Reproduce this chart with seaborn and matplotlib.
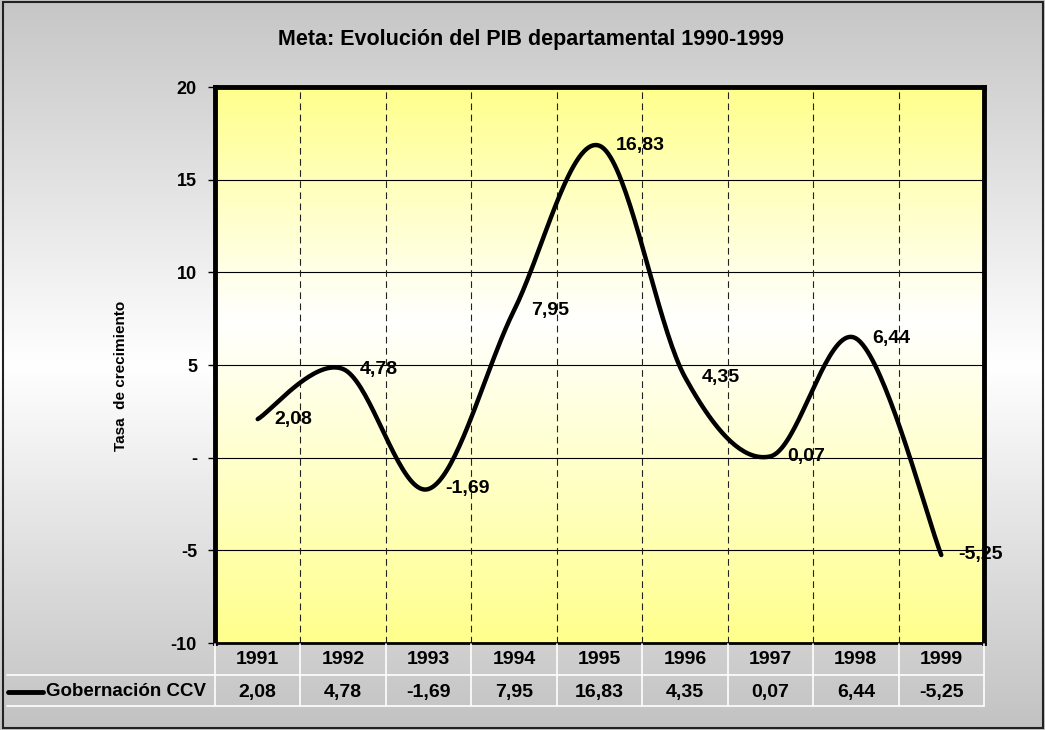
"""
plot.py
Line chart of the departmental GDP growth rate 1991-1999 (Excel style),
with a smoothed line, data labels and a data table under the x axis.

Run command: python plot.py
"""

import numpy as np
import matplotlib
matplotlib.use("Agg")  # no display in the sandbox
import matplotlib.pyplot as plt
import matplotlib.transforms as mtransforms
from matplotlib.colors import LinearSegmentedColormap
from matplotlib.lines import Line2D
from matplotlib.patches import Rectangle
import seaborn as sns

# Data
YEARS = ["1991", "1992", "1993", "1994", "1995", "1996", "1997", "1998", "1999"]
GROWTH = [2.08, 4.78, -1.69, 7.95, 16.83, 4.35, 0.07, 6.44, -5.25]
SERIES_NAME = "Gobernación CCV"
Y_TICKS = [-10, -5, 0, 5, 10, 15, 20]
Y_TICK_LABELS = ["-10", "-5", "-", "5", "10", "15", "20"]
TITLE = "Meta: Evolución del PIB departamental 1990-1999"
Y_LABEL = "Tasa  de crecimiento"

W, H = 1045, 730
FONT = ["Liberation Sans", "DejaVu Sans"]


def fmt(v):
    """Spanish decimal comma, like the original sheet"""
    return f"{v:.2f}".replace(".", ",")


def smooth_curve(y, steps=40):
    """Excel-like 'smoothed line': cubic Bezier segments through the points
    (Catmull-Rom control points). Only changes how the line is drawn."""
    pts = np.column_stack([np.arange(len(y)), y]).astype(float)
    padded = np.vstack([pts[0], pts, pts[-1]])
    t = np.linspace(0, 1, steps)[:, None]
    out = []
    for i in range(len(pts) - 1):
        p0, p1, p2, p3 = padded[i], padded[i + 1], padded[i + 2], padded[i + 3]
        c1 = p1 + (p2 - p0) / 6
        c2 = p2 - (p3 - p1) / 6
        seg = (1 - t) ** 3 * p1 + 3 * (1 - t) ** 2 * t * c1 + 3 * (1 - t) * t ** 2 * c2 + t ** 3 * p2
        out.append(seg if i == 0 else seg[1:])
    return np.vstack(out)


sns.set_theme(style="white")
plt.rcParams["font.family"] = FONT
plt.rcParams["font.weight"] = "bold"
plt.rcParams["text.color"] = "black"
plt.rcParams["axes.labelcolor"] = "black"
plt.rcParams["ytick.color"] = "black"
plt.rcParams["xtick.color"] = "black"

fig = plt.figure(figsize=(W / 100, H / 100), dpi=100)

# Figure background: gray -> white -> gray vertical gradient
bg = fig.add_axes([0, 0, 1, 1], zorder=-5)
bg_cmap = LinearSegmentedColormap.from_list("bg", ["#c6c6c6", "#ffffff", "#c2c2c2"])
bg.imshow(np.linspace(0, 1, 256)[:, None], cmap=bg_cmap, aspect="auto",
          extent=(0, 1, 0, 1), origin="upper")
bg.set_xlim(0, 1)
bg.set_ylim(0, 1)
bg.axis("off")
fig.add_artist(Rectangle((3 / W, 2 / H), 1 - 5 / W, 1 - 4 / H, transform=fig.transFigure,
                         fill=False, edgecolor="#222222", lw=1.5))

# Plot area
left, right, top, bottom = 215, 984, 87, 643
ax = fig.add_axes([left / W, 1 - bottom / H, (right - left) / W, (bottom - top) / H])
n = len(YEARS)
ax.set_xlim(-0.5, n - 0.5)
ax.set_ylim(-10, 20)

plot_cmap = LinearSegmentedColormap.from_list(
    "plot", [(0, "#ffff8c"), (0.42, "#ffffff"), (1, "#ffff8c")])
ax.imshow(np.linspace(0, 1, 256)[:, None], cmap=plot_cmap, aspect="auto",
          extent=(-0.5, n - 0.5, -10, 20), origin="upper", zorder=0)

for yv in Y_TICKS[1:-1]:
    ax.axhline(yv, color="black", lw=0.8, zorder=1)
for i in range(n - 1):
    ax.axvline(i + 0.5, color="#222222", lw=0.8, ls=(0, (6, 4)), zorder=1)

curve = smooth_curve(GROWTH)
sns.lineplot(x=curve[:, 0], y=curve[:, 1], sort=False, estimator=None,
             color="black", lw=3.2, ax=ax, zorder=3, legend=False)

for i, v in enumerate(GROWTH):
    ax.annotate(fmt(v), (i, v), xytext=(12, 0), textcoords="offset points",
                ha="left", va="center", fontsize=14, fontweight="bold", zorder=4)

ax.set_yticks(Y_TICKS)
ax.set_yticklabels(Y_TICK_LABELS, fontsize=13, fontweight="bold")
ax.set_xticks([])
ax.tick_params(axis="y", direction="out", length=5, width=1, color="black", pad=8, left=True)
ax.set_ylabel(Y_LABEL, fontsize=11, fontweight="bold")
ax.yaxis.set_label_coords(-0.113, 0.48)

for side in ["left", "top", "right"]:
    ax.spines[side].set_linewidth(3.5)
    ax.spines[side].set_color("black")
ax.spines["bottom"].set_linewidth(2)
ax.spines["bottom"].set_color("black")

fig.text(531 / W, 1 - 40 / H, TITLE, ha="center", va="center", fontsize=15.5, fontweight="bold")

# Data table under the plot
trans = mtransforms.blended_transform_factory(ax.transData, fig.transFigure)
y_years = 1 - 660 / H
y_vals = 1 - 692 / H
for i, (yr, v) in enumerate(zip(YEARS, GROWTH)):
    fig.text(i, y_years, yr, transform=trans, ha="center", va="center",
             fontsize=14, fontweight="bold")
    fig.text(i, y_vals, fmt(v), transform=trans, ha="center", va="center",
             fontsize=14, fontweight="bold")

for i in range(n + 1):
    fig.add_artist(Line2D([i - 0.5, i - 0.5], [1 - 644 / H, 1 - 706 / H],
                          transform=trans, color="white", lw=1.2))
for yp in [675, 706]:
    fig.add_artist(Line2D([7 / W, right / W], [1 - yp / H, 1 - yp / H],
                          transform=fig.transFigure, color="white", lw=1.2))

# Legend key inside the table
fig.add_artist(Line2D([8 / W, 43 / W], [y_vals, y_vals], transform=fig.transFigure,
                      color="black", lw=3.5, solid_capstyle="round"))
fig.text(46 / W, y_vals, SERIES_NAME, ha="left", va="center", fontsize=13.5, fontweight="bold")

fig.savefig("out.png", dpi=100)
plt.close(fig)
